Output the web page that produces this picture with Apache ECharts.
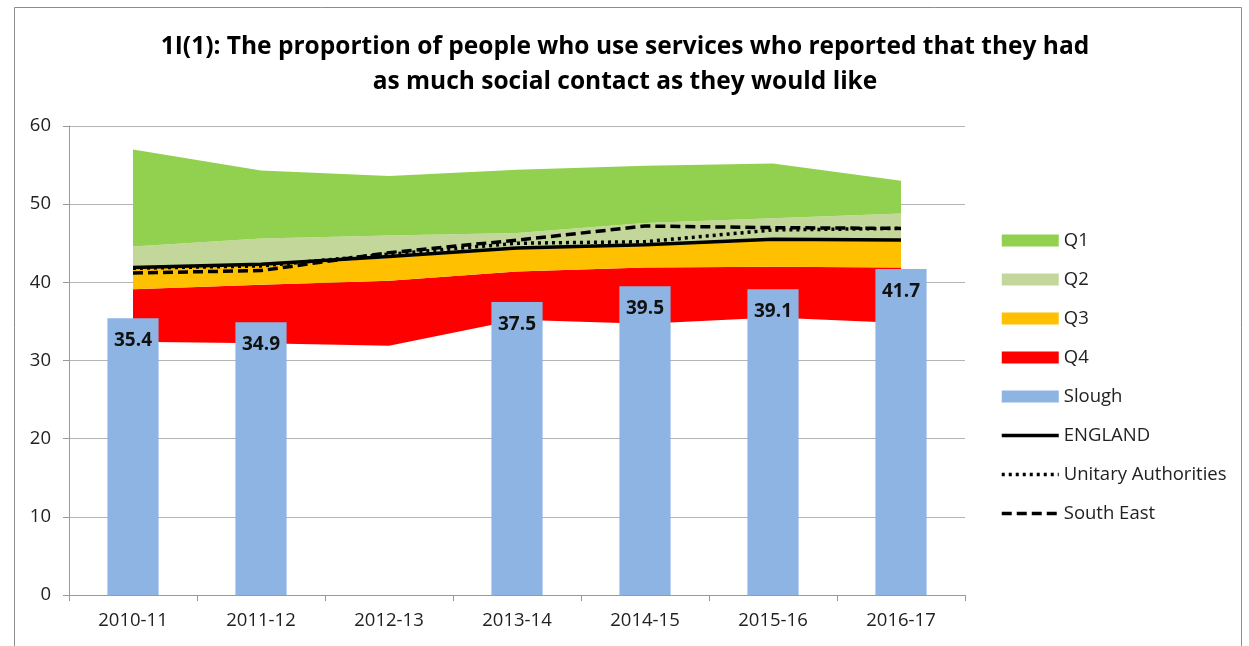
<!DOCTYPE html>
<html>
<head>
<meta charset="utf-8">
<script src="https://cdn.jsdelivr.net/npm/echarts@6/dist/echarts.min.js"></script>
<style>
  html, body { margin: 0; padding: 0; background: #fff; }
  #chart { width: 1249px; height: 646px; }
</style>
</head>
<body>
<div id="chart"></div>
<script>
// Financial years on the x axis
const years = ['2010-11', '2011-12', '2012-13', '2013-14', '2014-15', '2015-16', '2016-17'];

// Quartile band boundaries (percent)
const bandMin = [32.4, 32.2, 31.9, 35.2, 34.7, 35.5, 34.8];
const q4Top   = [39.1, 39.7, 40.2, 41.4, 41.9, 42.0, 41.9];
const q3Top   = [41.8, 42.2, 43.1, 44.3, 44.7, 45.4, 45.3];
const q2Top   = [44.6, 45.6, 46.0, 46.3, 47.6, 48.2, 48.8];
const q1Top   = [57.0, 54.3, 53.6, 54.4, 54.9, 55.2, 53.0];

// Local authority result
const slough = [35.4, 34.9, null, 37.5, 39.5, 39.1, 41.7];

// Comparator averages
const england    = [41.9, 42.3, 43.3, 44.4, 44.8, 45.5, 45.4];
const unitary    = [41.8, 42.1, 43.6, 45.0, 45.2, 46.7, 46.9];
const southEast  = [41.2, 41.5, 43.8, 45.4, 47.2, 47.0, 46.9];

const yTicks = { min: 0, max: 60, interval: 10 };

// stacked bands need the thickness of each slice
const diff = (top, bottom) => top.map((v, i) => +(v - bottom[i]).toFixed(2));

const FONT = '"Open Sans", "Noto Sans", sans-serif';

function band(name, data, color) {
  return {
    name: name, type: 'line', stack: 'band', data: data,
    symbol: 'none', z: 1, silent: true,
    lineStyle: { width: 0 },
    itemStyle: { color: color },
    areaStyle: { color: color, opacity: 1 }
  };
}

function avgLine(name, data, type) {
  return {
    name: name, type: 'line', data: data, symbol: 'none', z: 5,
    itemStyle: { color: '#000' },
    lineStyle: { color: '#000', width: 3.5, type: type, cap: 'butt' }
  };
}

// line entries in the legend show only the stroke, no marker
const lineKey = (name, type) => ({
  name: name,
  itemStyle: { opacity: 0, color: 'rgba(0,0,0,0)', borderWidth: 0 },
  lineStyle: { width: 3.5, color: '#000', type: type }
});

const chart = echarts.init(document.getElementById('chart'), null, { renderer: 'canvas' });

chart.setOption({
  animation: false,
  backgroundColor: '#fff',
  title: {
    text: '1I(1): The proportion of people who use services who reported that they had\nas much social contact as they would like',
    left: 620, top: 25, textAlign: 'center',
    textStyle: { fontFamily: FONT, fontWeight: 'bold', fontSize: 24.5, color: '#000', lineHeight: 35 }
  },
  graphic: [{
    type: 'rect', silent: true, z: -1,
    shape: { x: 14.5, y: 7.5, width: 1227, height: 660 },
    style: { fill: null, stroke: '#8c8c8c', lineWidth: 1 }
  }],
  legend: {
    orient: 'vertical', left: 995, top: 226,
    itemWidth: 57, itemHeight: 12, itemGap: 20,
    selectedMode: false,
    textStyle: { fontFamily: FONT, fontSize: 18.5, color: '#222' },
    data: [
      { name: 'Q1', icon: 'rect' },
      { name: 'Q2', icon: 'rect' },
      { name: 'Q3', icon: 'rect' },
      { name: 'Q4', icon: 'rect' },
      { name: 'Slough', icon: 'rect' },
      lineKey('ENGLAND', 'solid'),
      lineKey('Unitary Authorities', [3, 4]),
      lineKey('South East', [10, 5])
    ]
  },
  grid: { left: 69, right: 284, top: 126, bottom: 51 },
  xAxis: {
    type: 'category', data: years, boundaryGap: true,
    axisLine: { lineStyle: { color: '#9a9a9a', width: 1 } },
    axisTick: { show: true, length: 6, lineStyle: { color: '#9a9a9a' } },
    axisLabel: { fontFamily: FONT, fontSize: 18.5, color: '#222', margin: 16 }
  },
  yAxis: {
    type: 'value', min: yTicks.min, max: yTicks.max, interval: yTicks.interval,
    axisLine: { show: true, lineStyle: { color: '#9a9a9a', width: 1 } },
    axisTick: { show: true, length: 6, lineStyle: { color: '#9a9a9a' } },
    splitLine: { lineStyle: { color: '#b4b4b4', width: 1 } },
    axisLabel: { fontFamily: FONT, fontSize: 18.5, color: '#222', margin: 18 }
  },
  series: [
    {
      name: 'base', type: 'line', stack: 'band', data: bandMin,
      symbol: 'none', z: 1, silent: true,
      lineStyle: { width: 0 }, areaStyle: { opacity: 0 }
    },
    band('Q4', diff(q4Top, bandMin), '#FF0000'),
    band('Q3', diff(q3Top, q4Top), '#FFC000'),
    band('Q2', diff(q2Top, q3Top), '#C4D79B'),
    band('Q1', diff(q1Top, q2Top), '#92D050'),
    {
      name: 'Slough', type: 'bar', data: slough, barWidth: '40%', z: 3,
      itemStyle: { color: '#8DB4E2' },
      label: {
        show: true, position: 'insideTop', distance: 13,
        fontFamily: FONT, fontWeight: 'bold', fontSize: 19, color: '#111',
        formatter: p => p.value.toFixed(1)
      }
    },
    avgLine('ENGLAND', england, 'solid'),
    avgLine('Unitary Authorities', unitary, [3, 4]),
    avgLine('South East', southEast, [10, 5])
  ]
});
</script>
</body>
</html>
